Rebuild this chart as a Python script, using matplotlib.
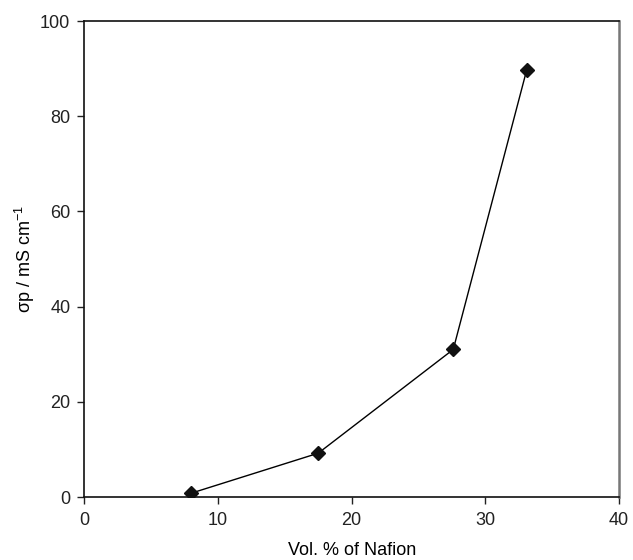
import matplotlib
matplotlib.use('Agg')
import matplotlib.pyplot as plt

plt.rcParams['font.family'] = ['Liberation Sans', 'DejaVu Sans']
plt.rcParams['mathtext.default'] = 'regular'

vol_nafion = [8.0, 17.5, 27.6, 33.1]
sigma_p = [0.8, 9.2, 31.0, 89.8]

fig = plt.figure(figsize=(6.33, 5.6), dpi=100)
ax = fig.add_axes([0.133, 0.1125, 0.845, 0.85])

ax.plot(vol_nafion, sigma_p, color='black', linewidth=1.0,
        marker='D', markersize=7.5, markerfacecolor='#111111',
        markeredgecolor='#111111')

ax.set_xlim(0, 40)
ax.set_ylim(0, 100)
ax.set_xticks([0, 10, 20, 30, 40])
ax.set_yticks([0, 20, 40, 60, 80, 100])
ax.tick_params(direction='out', length=5, width=1.0, labelsize=13,
               colors='#222222')
ax.tick_params(axis='x', pad=6)
ax.tick_params(axis='y', pad=5)

for side in ['left', 'bottom', 'top']:
    ax.spines[side].set_linewidth(1.2)
    ax.spines[side].set_color('#111111')
ax.spines['right'].set_linewidth(1.8)
ax.spines['right'].set_color('#777777')

ax.set_xlabel('Vol. % of Nafion', fontsize=13, labelpad=9)
ax.set_ylabel('σp / mS cm$^{-1}$', fontsize=13, labelpad=2)

fig.savefig('out.png', dpi=100)
